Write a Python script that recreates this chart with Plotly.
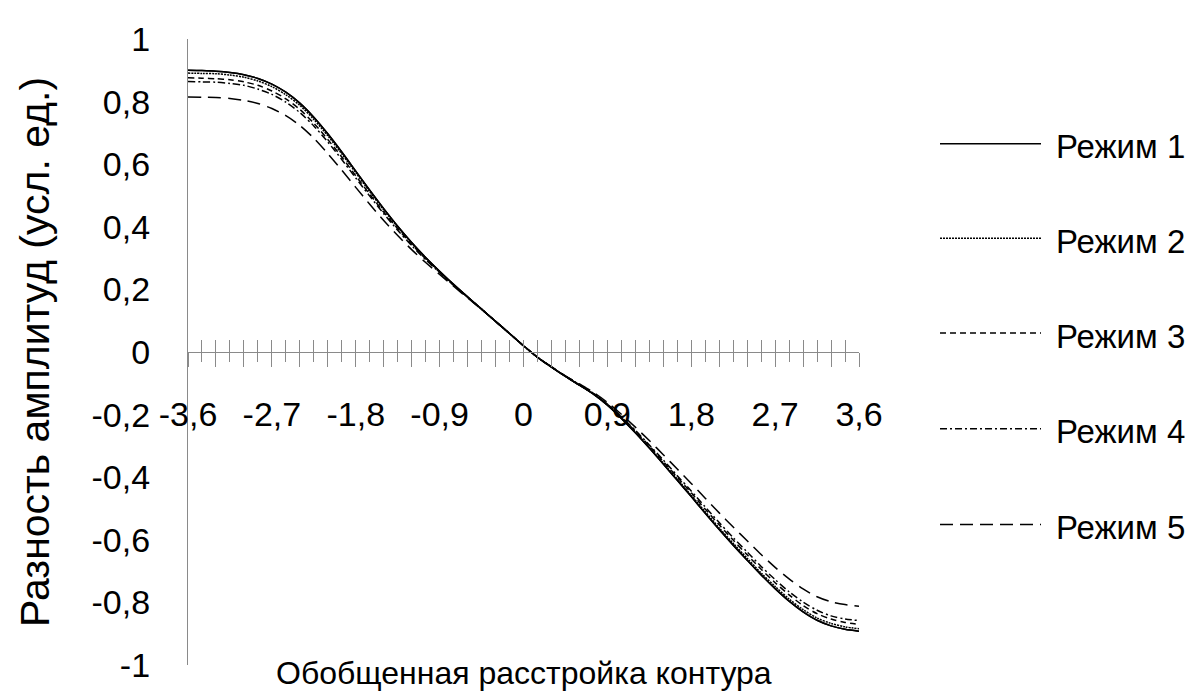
import plotly.graph_objects as go

# ─── данные ───────────────────────────────────────────────────────────────
X = [-3.6, -3.45, -3.3, -3.15, -3.0, -2.85, -2.7, -2.55, -2.4, -2.25, -2.1, -1.95,
     -1.8, -1.65, -1.5, -1.35, -1.2, -1.05, -0.9, -0.75, -0.6, -0.45, -0.3, -0.15,
     0.0, 0.15, 0.3, 0.45, 0.6, 0.75, 0.9, 1.05, 1.2, 1.35, 1.5, 1.65, 1.8, 1.95,
     2.1, 2.25, 2.4, 2.55, 2.7, 2.85, 3.0, 3.15, 3.3, 3.45, 3.6]

R1 = [0.900, 0.899, 0.897, 0.893, 0.886, 0.874, 0.856, 0.830, 0.795, 0.750, 0.697, 0.639,
      0.578, 0.517, 0.458, 0.402, 0.350, 0.302, 0.258, 0.216, 0.176, 0.137, 0.098, 0.059,
      0.020, -0.017, -0.048, -0.078, -0.106, -0.135, -0.170, -0.212, -0.258, -0.307, -0.358, -0.410,
      -0.462, -0.515, -0.567, -0.617, -0.665, -0.712, -0.756, -0.796, -0.830, -0.857, -0.875, -0.886,
      -0.892]
R2 = [0.891, 0.890, 0.889, 0.885, 0.878, 0.866, 0.848, 0.822, 0.788, 0.743, 0.691, 0.633,
      0.573, 0.512, 0.454, 0.399, 0.348, 0.300, 0.257, 0.215, 0.176, 0.137, 0.098, 0.059,
      0.020, -0.017, -0.048, -0.078, -0.106, -0.134, -0.169, -0.211, -0.256, -0.305, -0.355, -0.406,
      -0.458, -0.510, -0.562, -0.611, -0.659, -0.706, -0.749, -0.789, -0.823, -0.850, -0.867, -0.878,
      -0.884]
R3 = [0.876, 0.875, 0.873, 0.870, 0.863, 0.852, 0.834, 0.809, 0.775, 0.731, 0.679, 0.623,
      0.563, 0.504, 0.447, 0.394, 0.344, 0.298, 0.255, 0.214, 0.175, 0.137, 0.098, 0.059,
      0.020, -0.017, -0.048, -0.077, -0.105, -0.133, -0.167, -0.208, -0.253, -0.300, -0.350, -0.400,
      -0.450, -0.502, -0.552, -0.601, -0.648, -0.694, -0.737, -0.776, -0.810, -0.836, -0.853, -0.864,
      -0.870]
R4 = [0.864, 0.863, 0.862, 0.858, 0.852, 0.840, 0.823, 0.798, 0.765, 0.722, 0.671, 0.615,
      0.556, 0.498, 0.442, 0.389, 0.340, 0.295, 0.254, 0.213, 0.175, 0.137, 0.098, 0.059,
      0.020, -0.017, -0.048, -0.077, -0.104, -0.132, -0.166, -0.207, -0.250, -0.297, -0.345, -0.395,
      -0.444, -0.495, -0.545, -0.593, -0.639, -0.685, -0.727, -0.766, -0.799, -0.825, -0.843, -0.853,
      -0.858]
R5 = [0.815, 0.814, 0.813, 0.810, 0.804, 0.794, 0.778, 0.755, 0.724, 0.683, 0.634, 0.581,
      0.526, 0.472, 0.420, 0.372, 0.327, 0.286, 0.248, 0.210, 0.173, 0.136, 0.098, 0.059,
      0.020, -0.017, -0.047, -0.076, -0.102, -0.129, -0.161, -0.199, -0.240, -0.283, -0.328, -0.374,
      -0.420, -0.467, -0.514, -0.559, -0.603, -0.647, -0.688, -0.725, -0.757, -0.782, -0.798, -0.807,
      -0.812]

SERIES = [R1, R2, R3, R4, R5]
NAMES = ["Режим 1", "Режим 2", "Режим 3", "Режим 4", "Режим 5"]

X_LABELS = {-3.6: "-3,6", -2.7: "-2,7", -1.8: "-1,8", -0.9: "-0,9", 0.0: "0",
            0.9: "0,9", 1.8: "1,8", 2.7: "2,7", 3.6: "3,6"}
Y_TICKS = [1, 0.8, 0.6, 0.4, 0.2, 0, -0.2, -0.4, -0.6, -0.8, -1]
Y_LABELS = ["1", "0,8", "0,6", "0,4", "0,2", "0", "-0,2", "-0,4", "-0,6", "-0,8", "-1"]

# ─── оформление ───────────────────────────────────────────────────────────
W, H = 1193, 695
ML, MR, MT, MB = 180, 342, 29, 38
PW, PH = W - ML - MR, H - MT - MB
FONT = "Liberation Sans, Arial, sans-serif"
AXIS = "#8a8a8a"
DASHES = ["solid", "2px,1px", "6px,4px", "7px,3px,2px,3px", "13px,7px"]
LEG_Y = [134, 229, 324, 420, 516]


def px(xp):
    return (xp - ML) / PW


def py(yp):
    return (H - MB - yp) / PH


fig = go.Figure()

for ys, name, dash in zip(SERIES, NAMES, DASHES):
    fig.add_trace(go.Scatter(
        x=X, y=ys, name=name, mode="lines",
        line=dict(color="black", width=1.5, dash=dash, shape="spline", smoothing=0.8),
        showlegend=False,
    ))

# вторая ось X нужна только для засечек, пересекающих ось
fig.add_trace(go.Scatter(
    x=X, y=R1, mode="lines", xaxis="x2",
    line=dict(color="black", width=1.5, shape="spline", smoothing=0.8),
    showlegend=False, hoverinfo="skip",
))

major = X[::2]
fig.update_layout(
    width=W, height=H,
    margin=dict(l=ML, r=MR, t=MT, b=MB),
    paper_bgcolor="white", plot_bgcolor="white",
    font=dict(family=FONT, color="black"),
    xaxis=dict(
        range=[-3.6, 3.6], anchor="free", position=0.5, side="bottom",
        showline=True, linecolor=AXIS, linewidth=1.3,
        showgrid=False, zeroline=False,
        tickvals=major, ticktext=[X_LABELS.get(round(v, 2), "") for v in major],
        ticks="outside", ticklen=14, tickcolor=AXIS, tickwidth=1.3,
        minor=dict(tickvals=X[1::2], ticks="outside", ticklen=9,
                   tickcolor=AXIS, tickwidth=1.3, showgrid=False),
        tickfont=dict(size=34), ticklabelstandoff=18,
    ),
    xaxis2=dict(
        range=[-3.6, 3.6], overlaying="x", anchor="free", position=0.5, side="bottom",
        showline=False, showgrid=False, zeroline=False,
        tickvals=X, ticks="inside", ticklen=12, tickcolor=AXIS, tickwidth=1.3,
        showticklabels=False,
    ),
    yaxis=dict(
        range=[-1, 1], showline=True, linecolor=AXIS, linewidth=1.3,
        showgrid=False, zeroline=False, ticks="",
        tickvals=Y_TICKS, ticktext=Y_LABELS,
        tickfont=dict(size=34), ticklabelstandoff=30,
    ),
)

# подписи осей
fig.add_annotation(text="Обобщенная расстройка контура", xref="paper", yref="paper",
                   x=0.5, y=py(665), xanchor="center", yanchor="middle",
                   showarrow=False, font=dict(size=32))
fig.add_annotation(text="Разность амплитуд (усл. ед.)", xref="paper", yref="paper",
                   x=px(27), y=0.5, xanchor="center", yanchor="middle", textangle=-90,
                   showarrow=False, font=dict(size=41))

# легенда с длинными образцами линий
for name, dash, yl in zip(NAMES, DASHES, LEG_Y):
    fig.add_shape(type="line", xref="paper", yref="paper",
                  x0=px(932), x1=px(1033), y0=py(yl), y1=py(yl),
                  line=dict(color="black", width=1.5, dash=dash))
    fig.add_annotation(text=name, xref="paper", yref="paper",
                       x=px(1046), y=py(yl + 3), xanchor="left", yanchor="middle",
                       showarrow=False, font=dict(size=33))

fig.write_html("out.html")
